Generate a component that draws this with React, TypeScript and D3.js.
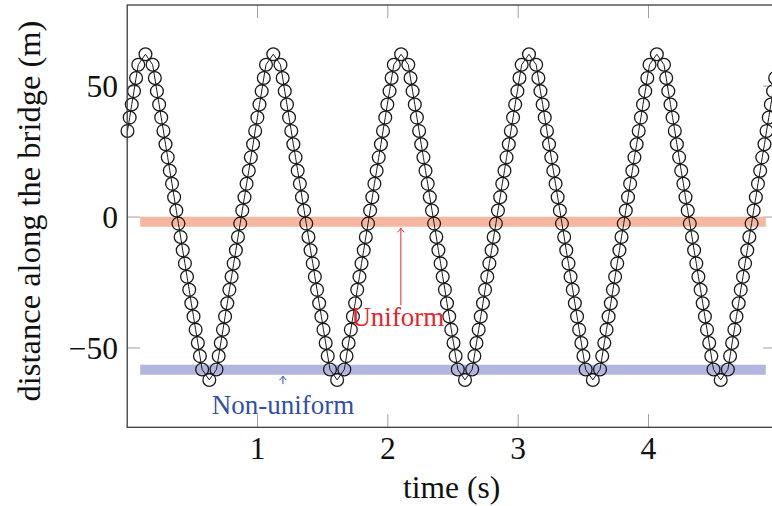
import React from "react";
import * as d3 from "d3";

// Sample times (s) of the tracked position, one entry per marker.
const timeS = [
  0.002, 0.019, 0.035, 0.052, 0.068, 0.085, 0.140,
  0.195, 0.212, 0.228, 0.245, 0.261, 0.278, 0.294, 0.311, 0.327, 0.344, 0.360, 0.377,
  0.393, 0.410, 0.426, 0.443, 0.459, 0.476, 0.492, 0.509, 0.525, 0.542, 0.558, 0.575, 0.630,
  0.685, 0.702, 0.718, 0.735, 0.751, 0.768, 0.784, 0.801, 0.817, 0.834, 0.850, 0.867,
  0.883, 0.900, 0.916, 0.933, 0.949, 0.966, 0.982, 0.999, 1.015, 1.032, 1.048, 1.065, 1.121,
  1.176, 1.193, 1.209, 1.226, 1.242, 1.259, 1.275, 1.292, 1.308, 1.325, 1.341, 1.358,
  1.374, 1.391, 1.407, 1.424, 1.440, 1.457, 1.473, 1.490, 1.506, 1.523, 1.539, 1.556, 1.611,
  1.666, 1.683, 1.699, 1.716, 1.732, 1.749, 1.765, 1.782, 1.798, 1.815, 1.831, 1.848,
  1.864, 1.881, 1.897, 1.914, 1.930, 1.947, 1.963, 1.980, 1.996, 2.013, 2.029, 2.046, 2.102,
  2.157, 2.174, 2.190, 2.207, 2.223, 2.240, 2.256, 2.273, 2.289, 2.306, 2.322, 2.339,
  2.355, 2.372, 2.388, 2.405, 2.421, 2.438, 2.454, 2.471, 2.487, 2.504, 2.520, 2.537, 2.592,
  2.647, 2.664, 2.680, 2.697, 2.713, 2.730, 2.746, 2.763, 2.779, 2.796, 2.812, 2.829,
  2.845, 2.862, 2.878, 2.895, 2.911, 2.928, 2.944, 2.961, 2.977, 2.994, 3.010, 3.027, 3.083,
  3.138, 3.155, 3.171, 3.188, 3.204, 3.221, 3.237, 3.254, 3.270, 3.287, 3.303, 3.320,
  3.336, 3.353, 3.369, 3.386, 3.402, 3.419, 3.435, 3.452, 3.468, 3.485, 3.501, 3.518, 3.573,
  3.628, 3.645, 3.661, 3.678, 3.694, 3.711, 3.727, 3.744, 3.760, 3.777, 3.793, 3.810,
  3.826, 3.843, 3.859, 3.876, 3.892, 3.909, 3.925, 3.942, 3.958, 3.975, 3.991, 4.008, 4.064,
  4.119, 4.136, 4.152, 4.169, 4.185, 4.202, 4.218, 4.235, 4.251, 4.268, 4.284, 4.301,
  4.317, 4.334, 4.350, 4.367, 4.383, 4.400, 4.416, 4.433, 4.449, 4.466, 4.482, 4.499, 4.554,
  4.609, 4.626, 4.642, 4.659, 4.675, 4.692, 4.708, 4.725, 4.741, 4.758, 4.774, 4.791,
  4.807, 4.824, 4.840, 4.857, 4.873, 4.890, 4.906, 4.923, 4.939, 4.956, 4.972,
];

// Distance along the bridge (m) at each sample time.
const distanceM = [
  32.9, 38.0, 43.0, 48.1, 53.1, 58.2, 62.2,
  58.2, 53.1, 48.1, 43.0, 38.0, 32.9, 27.8, 22.8, 17.7, 12.7, 7.6, 2.5,
  -2.5, -7.6, -12.7, -17.7, -22.8, -27.8, -32.9, -38.0, -43.0, -48.1, -53.1, -58.2, -62.2,
  -58.2, -53.1, -48.1, -43.0, -38.0, -32.9, -27.8, -22.8, -17.7, -12.7, -7.6, -2.5,
  2.5, 7.6, 12.7, 17.7, 22.8, 27.8, 32.9, 38.0, 43.0, 48.1, 53.1, 58.2, 62.2,
  58.2, 53.1, 48.1, 43.0, 38.0, 32.9, 27.8, 22.8, 17.7, 12.7, 7.6, 2.5,
  -2.5, -7.6, -12.7, -17.7, -22.8, -27.8, -32.9, -38.0, -43.0, -48.1, -53.1, -58.2, -62.2,
  -58.2, -53.1, -48.1, -43.0, -38.0, -32.9, -27.8, -22.8, -17.7, -12.7, -7.6, -2.5,
  2.5, 7.6, 12.7, 17.7, 22.8, 27.8, 32.9, 38.0, 43.0, 48.1, 53.1, 58.2, 62.2,
  58.2, 53.1, 48.1, 43.0, 38.0, 32.9, 27.8, 22.8, 17.7, 12.7, 7.6, 2.5,
  -2.5, -7.6, -12.7, -17.7, -22.8, -27.8, -32.9, -38.0, -43.0, -48.1, -53.1, -58.2, -62.2,
  -58.2, -53.1, -48.1, -43.0, -38.0, -32.9, -27.8, -22.8, -17.7, -12.7, -7.6, -2.5,
  2.5, 7.6, 12.7, 17.7, 22.8, 27.8, 32.9, 38.0, 43.0, 48.1, 53.1, 58.2, 62.2,
  58.2, 53.1, 48.1, 43.0, 38.0, 32.9, 27.8, 22.8, 17.7, 12.7, 7.6, 2.5,
  -2.5, -7.6, -12.7, -17.7, -22.8, -27.8, -32.9, -38.0, -43.0, -48.1, -53.1, -58.2, -62.2,
  -58.2, -53.1, -48.1, -43.0, -38.0, -32.9, -27.8, -22.8, -17.7, -12.7, -7.6, -2.5,
  2.5, 7.6, 12.7, 17.7, 22.8, 27.8, 32.9, 38.0, 43.0, 48.1, 53.1, 58.2, 62.2,
  58.2, 53.1, 48.1, 43.0, 38.0, 32.9, 27.8, 22.8, 17.7, 12.7, 7.6, 2.5,
  -2.5, -7.6, -12.7, -17.7, -22.8, -27.8, -32.9, -38.0, -43.0, -48.1, -53.1, -58.2, -62.2,
  -58.2, -53.1, -48.1, -43.0, -38.0, -32.9, -27.8, -22.8, -17.7, -12.7, -7.6, -2.5,
  2.5, 7.6, 12.7, 17.7, 22.8, 27.8, 32.9, 38.0, 43.0, 48.1, 53.1,
];

const xTicks = [1, 2, 3, 4];
const yTicks = [50, 0, -50];

// Reference levels shown as wide bands
const bandNames = ["Uniform", "Non-uniform"];
const bandLevels = [-1.8, -58.3];
const bandStart = [0.1, 0.1];
const bandEnd = [4.9, 4.9];
const bandColors = ["#f5b7a1", "#b2b5dd"];
const labelColors = ["#e8242b", "#3050a8"];
// Annotation anchor times and label baselines (in metres)
const labelTimes = [2.1, 1.195];
const labelLevels = [-41.5, -75.4];
const arrowTailLevels = [-33.7, -63.8];

const W = 772;
const H = 506;
const FONT = "'Liberation Serif', 'Times New Roman', serif";

export default function App() {
  const x = d3.scaleLinear().domain([0, 4.98]).range([127.2, 776.2]);
  const y = d3.scaleLinear().domain([-80.3, 81]).range([427.3, 5]);
  const [x0, x1] = x.range();
  const [yb, yt] = y.range();

  const pts: [number, number][] = timeS.map((t, i) => [t, distanceM[i]]);
  const line = d3
    .line<[number, number]>()
    .x((d) => x(d[0]))
    .y((d) => y(d[1]));

  const tickLen = 13;
  const fs = 31.5;

  return (
    <svg
      width={W}
      height={H}
      style={{ position: "absolute", left: 0, top: 0, background: "#fff" }}
      fontFamily={FONT}
    >
      <rect x={0} y={0} width={W} height={H} fill="#fff" />

      {/* ticks on all four sides */}
      <g stroke="#a0a0a0" strokeWidth={1}>
        {xTicks.map((t) => (
          <g key={"xt" + t}>
            <line x1={x(t)} x2={x(t)} y1={yb} y2={yb - tickLen} />
            <line x1={x(t)} x2={x(t)} y1={yt} y2={yt + tickLen} />
          </g>
        ))}
        {yTicks.map((v) => (
          <g key={"yt" + v}>
            <line x1={x0} x2={x0 + tickLen} y1={y(v)} y2={y(v)} />
            <line x1={x1} x2={x1 - tickLen} y1={y(v)} y2={y(v)} />
          </g>
        ))}
      </g>

      {/* reference bands */}
      {bandLevels.map((lv, i) => (
        <line
          key={"band" + i}
          x1={x(bandStart[i])}
          x2={x(bandEnd[i])}
          y1={y(lv)}
          y2={y(lv)}
          stroke={bandColors[i]}
          strokeWidth={10}
        />
      ))}

      {/* position trace */}
      <path d={line(pts) ?? ""} fill="none" stroke="#1a1a1a" strokeWidth={1} />
      <g fill="none" stroke="#1a1a1a" strokeWidth={1.3}>
        {pts.map((d, i) => (
          <circle key={i} cx={x(d[0])} cy={y(d[1])} r={6.4} />
        ))}
      </g>

      {/* annotations */}
      {bandNames.map((name, i) => {
        const ax = x(labelTimes[i]);
        const headY = y(bandLevels[i]) + 6.5;
        const tailY = y(arrowTailLevels[i]);
        return (
          <g key={"ann" + i}>
            <line x1={ax} x2={ax} y1={tailY} y2={headY} stroke={labelColors[i]} strokeWidth={1} />
            <path
              d={`M${ax - 3.5},${headY + 4} Q${ax - 1},${headY + 1.5} ${ax},${headY} Q${ax + 1},${headY + 1.5} ${ax + 3.5},${headY + 4}`}
              fill="none"
              stroke={labelColors[i]}
              strokeWidth={1}
            />
            <text
              x={ax - (i === 0 ? 3 : 0)}
              y={y(labelLevels[i])}
              textAnchor="middle"
              fontSize={27}
              fill={labelColors[i]}
            >
              {name}
            </text>
          </g>
        );
      })}

      {/* frame */}
      <rect
        x={x0}
        y={yt}
        width={x1 - x0}
        height={yb - yt}
        fill="none"
        stroke="#3a3a3a"
        strokeWidth={1.3}
      />

      {/* tick labels */}
      {xTicks.map((t) => (
        <text key={"xl" + t} x={x(t)} y={459} textAnchor="middle" fontSize={fs} fill="#111">
          {t}
        </text>
      ))}
      {yTicks.map((v) => (
        <text
          key={"yl" + v}
          x={118}
          y={y(v)}
          dy="0.34em"
          textAnchor="end"
          fontSize={fs}
          fill="#111"
        >
          {v < 0 ? "\u2212" + Math.abs(v) : String(v)}
        </text>
      ))}

      {/* axis titles */}
      <text x={(x0 + 776) / 2} y={498} textAnchor="middle" fontSize={fs} fill="#111">
        time (s)
      </text>
      <text
        transform={`translate(40, 211) rotate(-90)`}
        textAnchor="middle"
        fontSize={32.5}
        fill="#111"
      >
        distance along the bridge (m)
      </text>
    </svg>
  );
}
